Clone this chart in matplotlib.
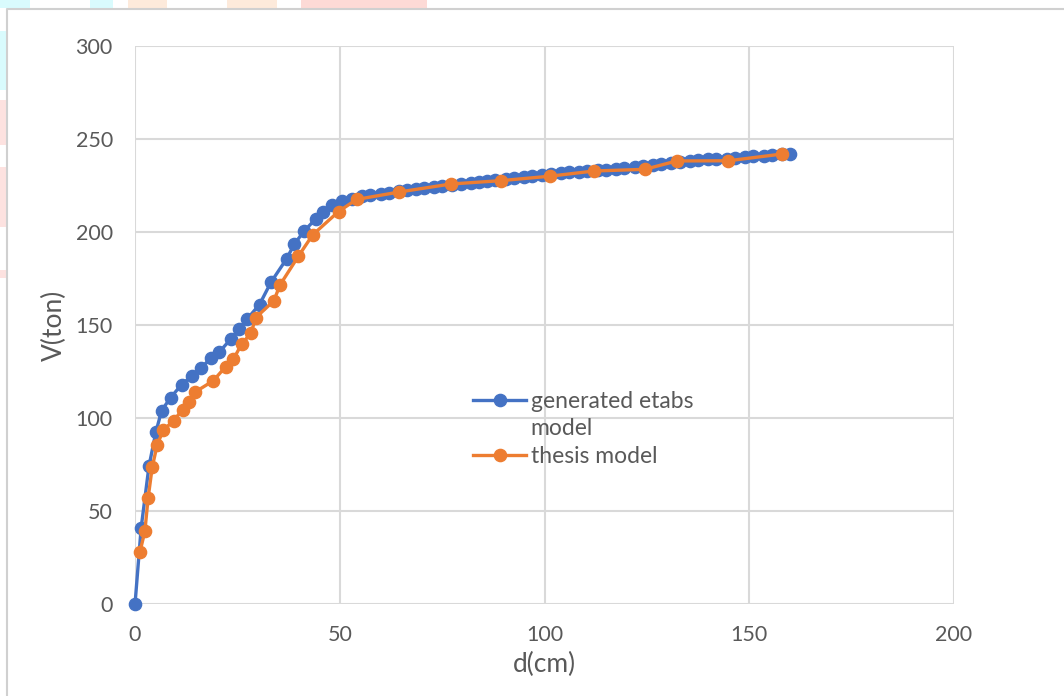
import matplotlib.pyplot as plt
from matplotlib.lines import Line2D
from matplotlib.patches import Rectangle

# generated etabs model (blue)
etabs_d = [0, 1.5, 3.4, 5.1, 6.5, 8.7, 11.4, 13.8, 16.1, 18.5, 20.6, 23.4, 25.5,
           27.3, 30.4, 33.2, 37.0, 38.9, 41.3, 44.1, 46.0, 48.0, 50.5, 53.0, 55.5,
           57.5, 60.0, 62.0, 64.5, 66.5, 68.5, 70.5, 73.0, 75.0, 77.5, 79.5, 82.0,
           84.0, 86.0, 88.0, 90.5, 92.5, 95.0, 97.0, 99.5, 101.5, 104.0, 106.0,
           108.5, 110.5, 113.0, 115.0, 117.5, 119.5, 122.0, 124.0, 126.5, 128.5,
           131.0, 133.0, 135.5, 137.5, 140.0, 142.0, 144.5, 146.5, 149.0, 151.0,
           153.5, 155.5, 158.0, 160.0]
etabs_v = [0, 41, 74, 92.5, 104, 111, 118, 122.5, 127, 132, 135.5, 142.5, 148,
           153, 161, 173, 185.5, 193.5, 200.5, 207, 211, 214.5, 216.5, 218, 219.5,
           220, 220.5, 221, 222, 222.5, 223, 223.5, 224, 225, 225.5, 226, 226.5,
           227, 227.5, 228, 228.5, 229, 229.5, 230, 230.5, 231, 231.5, 232,
           232.5, 233, 233.5, 233.5, 234, 234.5, 235, 235.5, 236, 236.5,
           237, 237.5, 238, 238.5, 239, 239, 239.5, 240, 240.5, 241,
           241, 241.5, 242, 242]

# thesis model (orange)
thesis_d = [1.2, 2.4, 3.2, 4.2, 5.4, 6.9, 9.4, 11.6, 13.2, 14.7, 19.1, 22.1, 24.0,
            26.1, 28.3, 29.5, 33.9, 35.4, 39.9, 43.4, 49.7, 54.1, 64.5, 77.1, 89.3,
            101.3, 112.1, 124.5, 132.3, 144.9, 157.9]
thesis_v = [28, 39, 57, 73.5, 85.5, 93.5, 98.5, 104.5, 108.5, 114, 120, 127.5, 131.5,
            140, 145.5, 154, 163, 171.5, 187, 198.5, 211, 217.5, 221.5, 225.8, 227.6,
            230, 232.8, 233.7, 238.2, 238.3, 241.9]

BLUE = '#4472C4'
ORANGE = '#ED7D31'
GRID = '#d9d9d9'
TXT = '#595959'

plt.rcParams['font.family'] = ['Lato', 'DejaVu Sans']

fig = plt.figure(figsize=(10.64, 6.96), dpi=100)

# faint screenshot background strips + chart frame
for x0, y0, w, h, c in [(0, 0.988, 0.028, 0.012, '#d9fbfd'), (0.085, 0.988, 0.021, 0.012, '#d9fbfd'),
                        (0.120, 0.988, 0.037, 0.012, '#fdeadb'), (0.213, 0.988, 0.047, 0.012, '#fdeadb'),
                        (0.283, 0.988, 0.118, 0.012, '#fddad6'),
                        (0, 0.870, 0.006, 0.085, '#d9fbfd'), (0, 0.792, 0.006, 0.065, '#fde2e0'),
                        (0, 0.674, 0.006, 0.086, '#fde2e0'), (0, 0.600, 0.006, 0.012, '#fde2e0')]:
    fig.patches.append(Rectangle((x0, y0), w, h, transform=fig.transFigure,
                                 facecolor=c, edgecolor='none', zorder=0))
fig.add_artist(Line2D([0.0065, 0.0065, 1.0], [0.0, 0.987, 0.987],
                      transform=fig.transFigure, color='#d0d0d0', lw=1.5))

ax = fig.add_axes([0.1269, 0.1322, 0.8966 - 0.1269, 0.9339 - 0.1322])
ax.set_xlim(0, 200)
ax.set_ylim(0, 300)
ax.set_xticks(range(0, 201, 50))
ax.set_yticks(range(0, 301, 50))
ax.grid(True, color=GRID, lw=1.5)
ax.set_axisbelow(True)
for s in ax.spines.values():
    s.set_visible(False)
ax.tick_params(length=0, labelsize=15.5, labelcolor=TXT)
ax.tick_params(axis='y', pad=16)
ax.tick_params(axis='x', pad=15)

l1, = ax.plot(etabs_d, etabs_v, '-o', color=BLUE, lw=2.4, ms=8.8, clip_on=False, zorder=3)
l2, = ax.plot(thesis_d, thesis_v, '-o', color=ORANGE, lw=2.4, ms=8.8, clip_on=False, zorder=4)

ax.set_xlabel('d(cm)', fontsize=19, color=TXT, labelpad=5)
ax.set_ylabel('V(ton)', fontsize=19, color=TXT, labelpad=6)

blank = Line2D([], [], linestyle='none')
ax.legend([l1, blank, l2], ['generated etabs', 'model', 'thesis model'],
          loc='upper left', bbox_to_anchor=(0.434, 0.455), bbox_transform=fig.transFigure,
          frameon=False, fontsize=16.5, labelcolor=TXT, handlelength=2.3,
          handletextpad=0.2, labelspacing=0.28, borderpad=0)

fig.savefig('out.png', dpi=100)
